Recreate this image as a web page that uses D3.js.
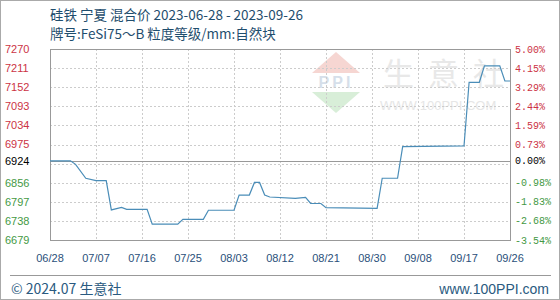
<!DOCTYPE html>
<html>
<head>
<meta charset="utf-8">
<script src="https://cdn.jsdelivr.net/npm/d3@7"></script>
<style>
    body { margin: 0; background: #fff; }
    svg { display: block; }
</style>
</head>
<body>
<div id="chart"></div>
<script>
var dates = ["2023-06-28","2023-07-02","2023-07-03","2023-07-05","2023-07-07","2023-07-09","2023-07-10",
    "2023-07-12","2023-07-13","2023-07-17","2023-07-18","2023-07-23","2023-07-24","2023-07-28",
    "2023-07-29","2023-08-03","2023-08-04","2023-08-06","2023-08-07","2023-08-08","2023-08-09",
    "2023-08-10","2023-08-15","2023-08-17","2023-08-18","2023-08-20","2023-08-21","2023-08-31",
    "2023-09-01","2023-09-04","2023-09-05","2023-09-17","2023-09-18","2023-09-20","2023-09-21",
    "2023-09-24","2023-09-25","2023-09-26"];
var prices = [6924,6924,6913,6870,6863,6863,6772,
    6780,6774,6774,6728,6728,6743,6743,
    6771,6771,6818,6818,6857,6857,6818,
    6812,6808,6811,6792,6792,6779,6777,
    6870,6870,6968,6970,7167,7167,7218,
    7218,7171,7171];
var leftTicks = [7270,7211,7152,7093,7034,6975,6924,6856,6797,6738,6679];
var rightTicks = ["5.00%","4.15%","3.29%","2.44%","1.59%","0.73%","0.00%","-0.98%","-1.83%","-2.68%","-3.54%"];
var xLabels = ["06/28","07/07","07/16","07/25","08/03","08/12","08/21","08/30","09/08","09/17","09/26"];
var base = 6924;

(function() {
    var W = 560, H = 300;
    var left = 50, right = 510, top = 49, bottom = 240;
    var parse = d3.timeParse("%Y-%m-%d");

    var svg = d3.select("#chart").append("svg")
        .attr("width", W).attr("height", H)
        .style("font-family", "'Liberation Sans', Arial, sans-serif");

    svg.append("rect").attr("x", 0.5).attr("y", 0.5)
        .attr("width", W - 1).attr("height", H - 1)
        .attr("fill", "#fff").attr("stroke", "#aaa");

    var x = d3.scaleTime()
        .domain([parse(dates[0]), parse(dates[dates.length - 1])])
        .range([left, right]);
    var y = d3.scaleLinear().domain([6679, 7270]).range([bottom, top]);
    var xl = d3.scalePoint().domain(xLabels).range([left, right]);
    var gridY = d3.range(11).map(function(i) { return 6679 + i * 59.1; });

    // watermark
    var wm = svg.append("g");
    wm.append("path").attr("d", "M336,52 L360,73 L312,73 Z").attr("fill", "#f6d6d2");
    wm.append("path").attr("d", "M312,92 L360,92 L336,113 Z").attr("fill", "#d8eed8");
    wm.append("text").attr("x", 336).attr("y", 88).attr("text-anchor", "middle")
        .attr("font-size", 16).attr("font-weight", "bold").attr("fill", "#d6dfea")
        .attr("letter-spacing", 3).text("PPI");
    wm.append("text").attr("x", "383 428 473").attr("y", 85)
        .attr("font-family", "'Noto Sans CJK SC'").attr("font-size", 31)
        .attr("fill", "#e8e8e8").text("生意社");
    wm.append("text").attr("x", 380).attr("y", 110)
        .attr("font-size", 13).attr("fill", "#e6e6e6").text("WWW.100PPI.COM");

    // grid
    svg.append("g").selectAll("line").data(gridY).enter().append("line")
        .attr("x1", left).attr("x2", right)
        .attr("y1", function(d) { return Math.round(y(d)) + 0.5; })
        .attr("y2", function(d) { return Math.round(y(d)) + 0.5; })
        .attr("stroke", "#ccc").attr("stroke-dasharray", "2,2");
    svg.append("g").selectAll("line").data(xLabels).enter().append("line")
        .attr("x1", function(d) { return Math.round(xl(d)) + 0.5; })
        .attr("x2", function(d) { return Math.round(xl(d)) + 0.5; })
        .attr("y1", top).attr("y2", bottom)
        .attr("stroke", "#ccc").attr("stroke-dasharray", "2,2");

    svg.append("rect").attr("x", left + 0.5).attr("y", top + 0.5)
        .attr("width", right - left).attr("height", bottom - top)
        .attr("fill", "none").attr("stroke", "#999");
    svg.append("line").attr("x1", left).attr("x2", right)
        .attr("y1", Math.round(y(base)) + 0.5).attr("y2", Math.round(y(base)) + 0.5)
        .attr("stroke", "#999");

    // price line
    var line = d3.line()
        .x(function(d, i) { return x(parse(dates[i])); })
        .y(function(d) { return y(d); });
    svg.append("path").datum(prices).attr("d", line)
        .attr("fill", "none").attr("stroke", "#4a8db8").attr("stroke-width", 1.2);

    function tickColor(v) { return v > base ? "#cc3344" : (v < base ? "#449944" : "#000"); }

    svg.append("g").selectAll("text").data(leftTicks).enter().append("text")
        .attr("x", 5).attr("y", function(d) { return y(d); }).attr("dy", "0.35em")
        .attr("font-size", 11).attr("fill", tickColor)
        .text(function(d) { return d; });
    svg.append("g").selectAll("text").data(rightTicks).enter().append("text")
        .attr("x", 515).attr("y", function(d, i) { return y(leftTicks[i]); }).attr("dy", "0.35em")
        .attr("font-family", "'Liberation Mono', monospace").attr("font-size", 10)
        .attr("fill", function(d, i) { return tickColor(leftTicks[i]); })
        .text(function(d) { return d; });

    svg.append("g").selectAll("text").data(xLabels).enter().append("text")
        .attr("x", function(d) { return xl(d); }).attr("y", 262)
        .attr("text-anchor", "middle").attr("font-size", 11).attr("fill", "#2a4f7a")
        .text(function(d) { return d; });

    // titles
    svg.append("text").attr("x", 50).attr("y", 20)
        .attr("font-family", "'Noto Sans CJK SC', sans-serif").attr("font-size", 13.5)
        .attr("fill", "#1f4e6e").text("硅铁 宁夏 混合价 2023-06-28 - 2023-09-26");
    svg.append("text").attr("x", 50).attr("y", 39)
        .attr("font-family", "'Noto Sans CJK SC', sans-serif").attr("font-size", 13.5)
        .attr("fill", "#1f4e6e").text("牌号:FeSi75～B 粒度等级/mm:自然块");

    // footer
    svg.append("line").attr("x1", 10).attr("x2", 551).attr("y1", 275.5).attr("y2", 275.5)
        .attr("stroke", "#999");
    svg.append("text").attr("x", 11).attr("y", 294)
        .attr("font-family", "'Noto Sans CJK SC', sans-serif").attr("font-size", 14)
        .attr("fill", "#2a5a80").text("© 2024.07 生意社");
    svg.append("text").attr("x", 549).attr("y", 294).attr("text-anchor", "end")
        .attr("font-size", 14).attr("fill", "#2a5a80").text("www.100PPI.com");
})();
</script>
</body>
</html>
